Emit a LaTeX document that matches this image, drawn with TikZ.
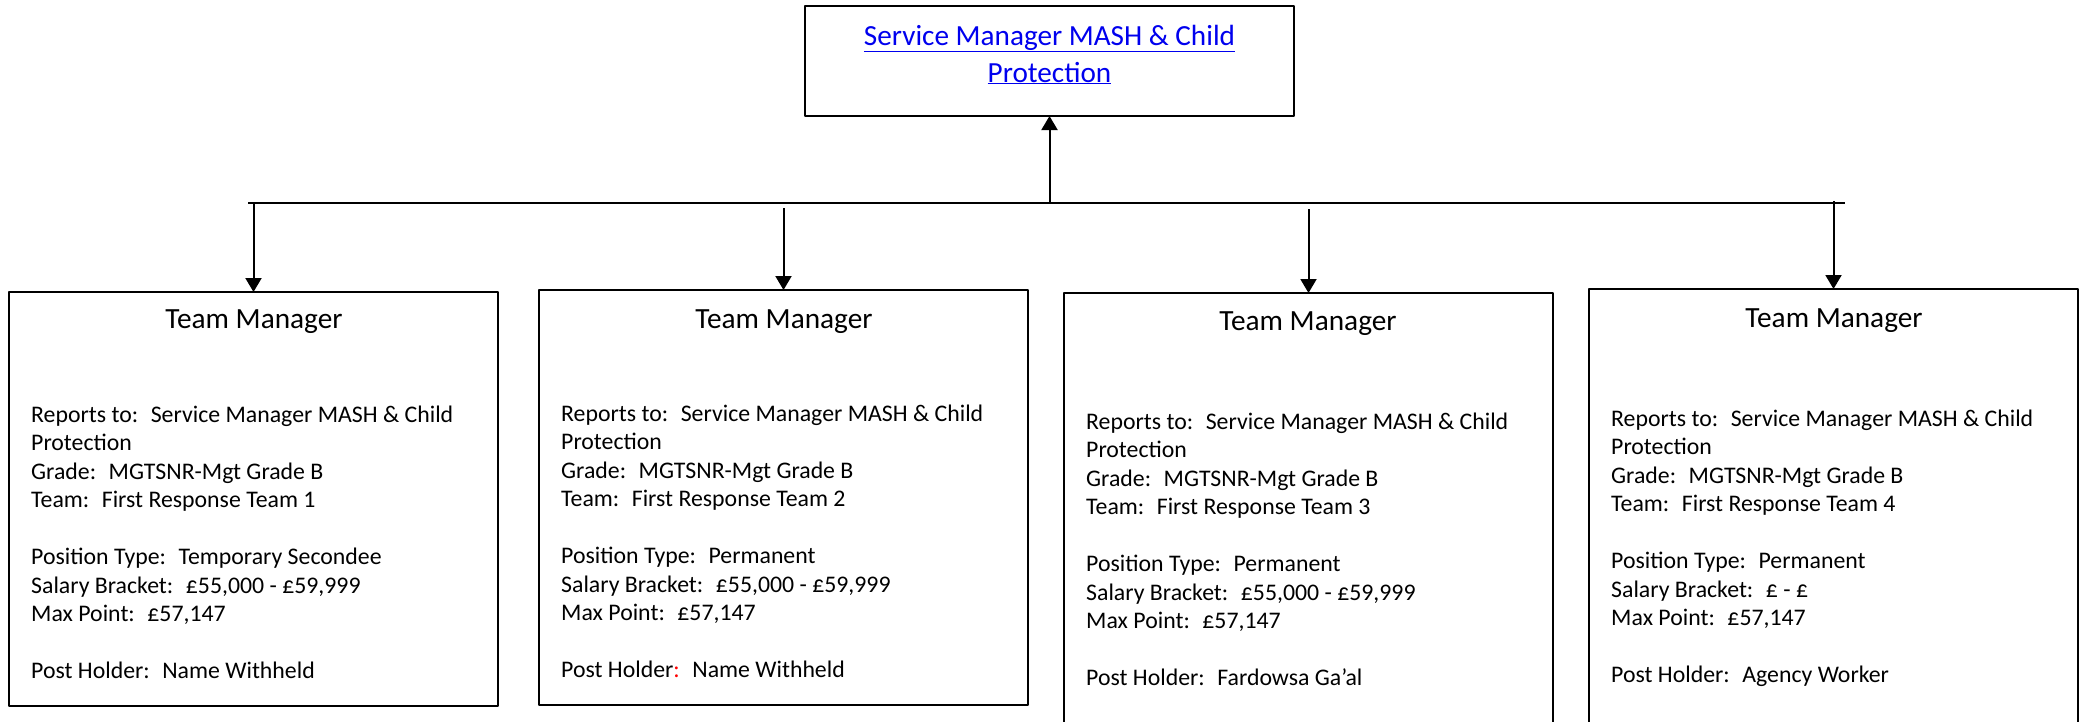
\documentclass[tikz,border=0pt]{standalone}
\usepackage{fontspec}
\setmainfont{Carlito}
\usetikzlibrary{arrows.meta,positioning}
\definecolor{linkblue}{RGB}{0,0,238}
\tikzset{
  conn/.style={line width=2pt},
  post/.style={draw,line width=2.2pt,inner sep=0pt,outer sep=0pt,anchor=north west,minimum width=489pt},
  posthead/.style={anchor=base,inner sep=0pt,font=\fontsize{29.3}{36}\selectfont},
  postbody/.style={anchor=base west,inner sep=0pt,font=\fontsize{23.8}{28.5}\selectfont},
}
\begin{document}
\begin{tikzpicture}[x=1pt,y=-1pt,line join=round,>={Triangle[length=14pt,width=16pt]}]
	\useasboundingbox (0,0) rectangle (2083,721);
	\clip (0,0) rectangle (2083,721);
	% service manager
	\node[post,minimum height=110pt] (sm) at (805,6) {};
	\node[anchor=base,inner sep=0pt,text=linkblue,font=\fontsize{29.2}{37}\selectfont] (smtext) at (1049.5,45)
		{\begin{tabular}[t]{@{}c@{}}\underline{Service Manager MASH \& Child}\\\underline{Protection}\end{tabular}};
	% team managers
	\node[post,minimum height=414pt] (tm1) at (9,292) {};
	\node[post,minimum height=415pt] (tm2) at (539,290) {};
	\node[post,minimum height=460pt] (tm3) at (1064,293) {};
	\node[post,minimum height=460pt] (tm4) at (1589,289) {};
	\node[posthead] (tm1head) at (254,328) {Team Manager};
	\node[posthead] (tm2head) at (784,328) {Team Manager};
	\node[posthead] (tm3head) at (1308,330) {Team Manager};
	\node[posthead] (tm4head) at (1834,327) {Team Manager};
	\node[postbody] (tm1body) at (31,422) {\begin{tabular}[t]{@{}l@{}}
		Reports to:~ Service Manager MASH \& Child\\ Protection\\ Grade:~ MGTSNR-Mgt Grade B\\ Team:~ First Response Team 1\\[28.5pt]
		Position Type:~ Temporary Secondee\\ Salary Bracket:~ £55,000 - £59,999\\ Max Point:~ £57,147\\[28.5pt]
		Post Holder:~ Name Withheld\end{tabular}};
	\node[postbody] (tm2body) at (561,421) {\begin{tabular}[t]{@{}l@{}}
		Reports to:~ Service Manager MASH \& Child\\ Protection\\ Grade:~ MGTSNR-Mgt Grade B\\ Team:~ First Response Team 2\\[28.5pt]
		Position Type:~ Permanent\\ Salary Bracket:~ £55,000 - £59,999\\ Max Point:~ £57,147\\[28.5pt]
		Post Holder\textcolor{red}{:}~ Name Withheld\end{tabular}};
	\node[postbody] (tm3body) at (1086,429) {\begin{tabular}[t]{@{}l@{}}
		Reports to:~ Service Manager MASH \& Child\\ Protection\\ Grade:~ MGTSNR-Mgt Grade B\\ Team:~ First Response Team 3\\[28.5pt]
		Position Type:~ Permanent\\ Salary Bracket:~ £55,000 - £59,999\\ Max Point:~ £57,147\\[28.5pt]
		Post Holder:~ Fardowsa Ga’al\end{tabular}};
	\node[postbody] (tm4body) at (1611,426) {\begin{tabular}[t]{@{}l@{}}
		Reports to:~ Service Manager MASH \& Child\\ Protection\\ Grade:~ MGTSNR-Mgt Grade B\\ Team:~ First Response Team 4\\[28.5pt]
		Position Type:~ Permanent\\ Salary Bracket:~ £ - £\\ Max Point:~ £57,147\\[28.5pt]
		Post Holder:~ Agency Worker\end{tabular}};
	% connectors
	\coordinate (busL) at (248,203);
	\coordinate (busR) at (1845,203);
	\draw[conn] (busL) -- (busR);
	\draw[conn,->] (sm.south |- busL) -- (sm.south);
	\draw[conn,->] (tm1.north |- busL) -- (tm1.north);
	\draw[conn,->] ([yshift=-5pt]tm2.north |- busL) -- (tm2.north);
	\draw[conn,->] ([yshift=-6pt]tm3.north |- busL) -- (tm3.north);
	\draw[conn,->] ([yshift=2pt]tm4.north |- busL) -- (tm4.north);
\end{tikzpicture}
\end{document}
